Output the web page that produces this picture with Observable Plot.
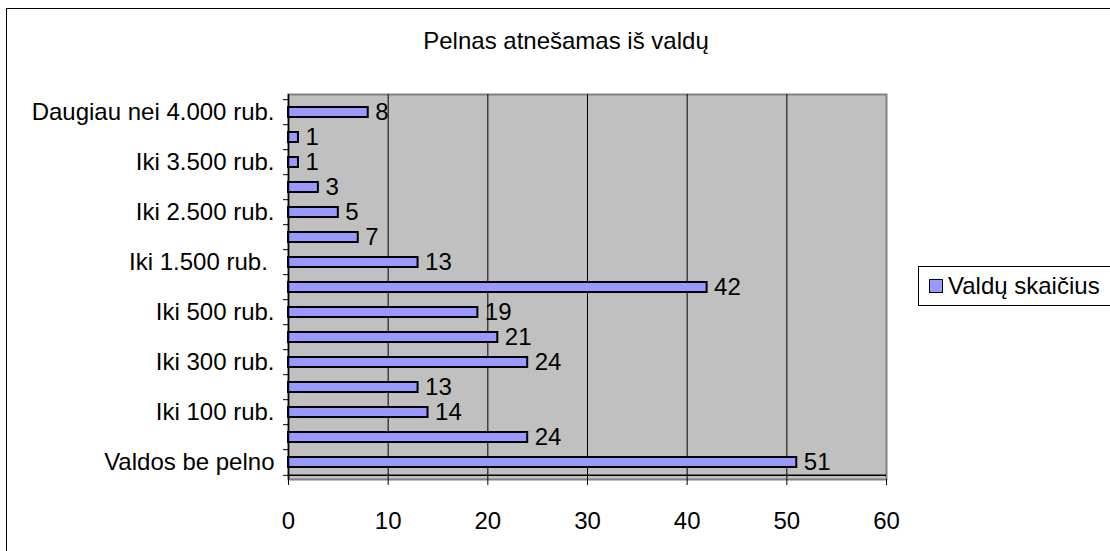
<!DOCTYPE html>
<html>
<head>
<meta charset="utf-8">
<script src="https://cdn.jsdelivr.net/npm/d3@7"></script>
<script src="https://cdn.jsdelivr.net/npm/@observablehq/plot@0.6"></script>
<style>
  html, body { margin: 0; padding: 0; background: #fff; overflow: hidden; }
  #wrap { position: relative; width: 1110px; height: 551px; overflow: hidden; font-family: "Liberation Sans", Arial, sans-serif; }
  #border { position: absolute; left: 6px; top: 8px; width: 1140px; height: 600px; border: 1px solid #000; box-sizing: border-box; }
  #title { position: absolute; left: 0; width: 1132px; top: 27px; text-align: center; font-size: 24px; color: #000; white-space: nowrap; }
  #chart { position: absolute; left: 0; top: 0; }
  #legend { position: absolute; left: 918px; top: 266px; width: 200px; height: 40px; border: 1px solid #000; box-sizing: border-box; background: #fff; font-size: 24px; display: flex; align-items: center; white-space: nowrap; }
  #legend .sw { display: inline-block; width: 12px; height: 12px; background: #9999ff; border: 1.5px solid #000; margin-left: 10px; margin-right: 5px; }
</style>
</head>
<body>
<div id="wrap">
  <div id="border"></div>
  <div id="chart"></div>
  <div id="title">Pelnas atnešamas iš valdų</div>
  <div id="legend"><span class="sw"></span><span id="legtext"></span></div>
</div>
<script>
// Categories, top to bottom
const categories = [
  "Daugiau nei 4.000 rub.",
  "Iki 4.000 rub.",
  "Iki 3.500 rub.",
  "Iki 3.000 rub.",
  "Iki 2.500 rub.",
  "Iki 2.000 rub.",
  "Iki 1.500 rub.\u00a0",
  "Iki 1.000 rub.",
  "Iki 500 rub.",
  "Iki 400 rub.",
  "Iki 300 rub.",
  "Iki 200 rub.",
  "Iki 100 rub.",
  "Iki 50 rub.",
  "Valdos be pelno"
];
const values = [8, 1, 1, 3, 5, 7, 13, 42, 19, 21, 24, 13, 14, 24, 51];
const xTicks = [0, 10, 20, 30, 40, 50, 60];
const gridTicks = [10, 20, 30, 40, 50];
const seriesName = "Valdų skaičius";

document.getElementById("legtext").textContent = seriesName;

const data = categories.map((c, i) => ({category: c, value: values[i]}));
const shownLabels = categories.filter((c, i) => i % 2 === 0);

const width = 1110, height = 551;
const marginLeft = 288, marginRight = 224, marginTop = 94, marginBottom = 72;
const step = (height - marginTop - marginBottom) / categories.length;
const font = "Liberation Sans, Arial, sans-serif";

const chart = Plot.plot({
  width, height, marginLeft, marginRight, marginTop, marginBottom,
  style: {fontFamily: font, fontSize: "24px", color: "#000", background: "transparent"},
  x: {domain: [0, 60], axis: null},
  y: {domain: categories, paddingInner: 0.6, paddingOuter: 0.3, axis: null},
  marks: [
    Plot.frame({fill: "#c0c0c0", stroke: "#808080", strokeWidth: 2}),
    Plot.ruleX(gridTicks, {stroke: "#000", strokeWidth: 1}),
    Plot.barX(data, {y: "category", x: "value", fill: "#9999ff", stroke: "#000", strokeWidth: 2}),
    Plot.text(data, {y: "category", x: "value", text: d => String(d.value), textAnchor: "start", dx: 7, fontSize: 24, fill: "#000"}),
    Plot.ruleX([0], {stroke: "#000", strokeWidth: 1.5}),
    Plot.ruleY([categories[categories.length - 1]], {stroke: "#000", strokeWidth: 1.5, dy: step / 2}),
    // y tick marks at band boundaries
    Plot.axisY(categories, {tickSize: 5, tickFormat: () => "", dy: -step / 2, stroke: "#000", label: null}),
    Plot.axisY([categories[categories.length - 1]], {tickSize: 5, tickFormat: () => "", dy: step / 2, stroke: "#000", label: null}),
    // y labels, every other category
    Plot.axisY(shownLabels, {tickSize: 0, tickPadding: 14, fontSize: 24, fill: "#000", label: null}),
    // x axis
    Plot.axisX(xTicks, {tickSize: 6, tickPadding: 26, fontSize: 24, fill: "#000", stroke: "#000", label: null})
  ]
});
document.getElementById("chart").appendChild(chart);
</script>
</body>
</html>
